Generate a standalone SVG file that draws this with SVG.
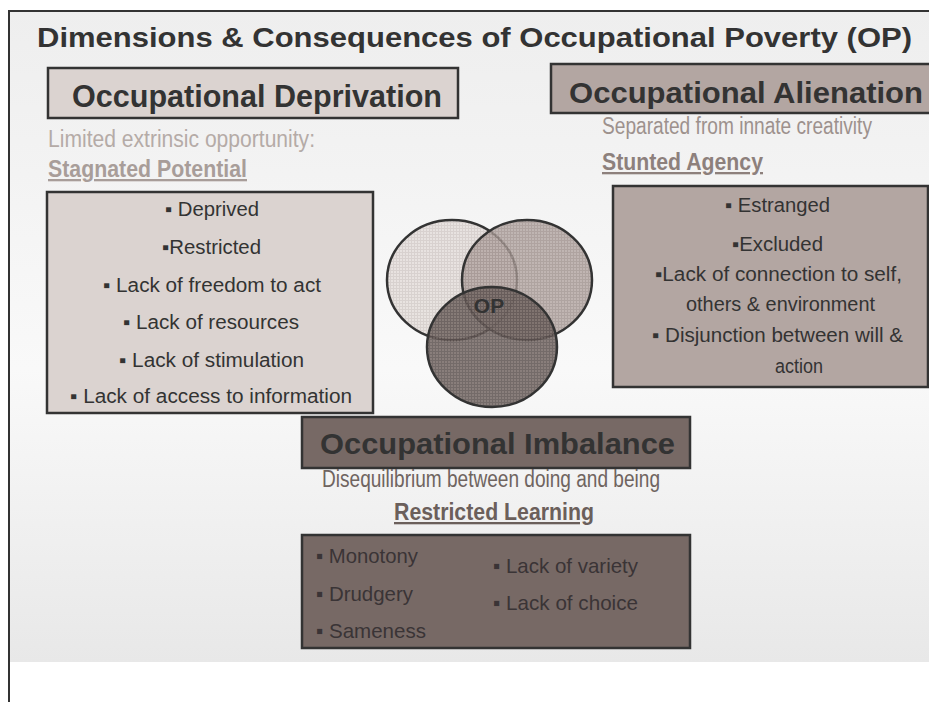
<svg xmlns="http://www.w3.org/2000/svg" width="929" height="702" viewBox="0 0 929 702">
<defs>
<linearGradient id="bg" x1="0" y1="0" x2="0" y2="1">
<stop offset="0" stop-color="#eeeeee"/>
<stop offset="0.55" stop-color="#f9f9f9"/>
<stop offset="1" stop-color="#e8e8e8"/>
</linearGradient>
<pattern id="p1" width="3" height="3" patternUnits="userSpaceOnUse">
<rect width="3" height="3" fill="#e5dfdc"/>
<path d="M0 0.5H3M0.5 0V3" stroke="#d3cbc8" stroke-width="1"/>
</pattern>
<pattern id="p2" width="3" height="3" patternUnits="userSpaceOnUse">
<rect width="3" height="3" fill="#b2a5a1"/>
<path d="M0 0.5H3M0.5 0V3" stroke="#9d8f8b" stroke-width="1"/>
</pattern>
<pattern id="p3" width="3" height="3" patternUnits="userSpaceOnUse">
<rect width="3" height="3" fill="#756965"/>
<path d="M0 0.5H3M0.5 0V3" stroke="#5d5250" stroke-width="1"/>
</pattern>
</defs>
<style>
.box{stroke:#333333;stroke-width:2.5}
.light{fill:#dbd3d0}
.mid{fill:#b3a6a2}
.dark{fill:#776965}
.hdr{font-family:"Liberation Sans",Arial,sans-serif;font-weight:bold;fill:#333333}
.sub{font-family:"Liberation Sans",Arial,sans-serif;font-size:23px}
.subb{font-family:"Liberation Sans",Arial,sans-serif;font-size:23px;font-weight:bold;text-decoration:underline}
.item{font-family:"Liberation Sans",Arial,sans-serif;font-size:19.5px;fill:#333333}
.itemd{font-family:"Liberation Sans",Arial,sans-serif;font-size:21px;fill:#3a3436}
.venn{stroke:#333333;stroke-width:2.5}
</style>

<g id="frame">
<rect x="9" y="11" width="930" height="651" fill="url(#bg)"/>
<path d="M9 702V11H929" fill="none" stroke="#333333" stroke-width="2"/>
</g>

<g id="title">
<text class="hdr" x="37" y="47" font-size="27.5" textLength="875" lengthAdjust="spacingAndGlyphs">Dimensions &amp; Consequences of Occupational Poverty (OP)</text>
</g>

<g id="deprivation">
<rect class="box light" x="48" y="68" width="410" height="50"/>
<text class="hdr" x="72" y="107" font-size="31" textLength="370" lengthAdjust="spacingAndGlyphs">Occupational Deprivation</text>
<text class="sub" x="48" y="147" fill="#b5aba7" textLength="267" lengthAdjust="spacingAndGlyphs">Limited extrinsic opportunity:</text>
<text class="subb" x="48" y="177" fill="#a89d99" textLength="199" lengthAdjust="spacingAndGlyphs">Stagnated Potential</text>
<rect class="box light" x="47" y="192" width="326" height="221"/>
<text class="item" x="165" y="216" textLength="94" lengthAdjust="spacingAndGlyphs">▪ Deprived</text>
<text class="item" x="162" y="254" textLength="99" lengthAdjust="spacingAndGlyphs">▪Restricted</text>
<text class="item" x="103" y="292" textLength="218" lengthAdjust="spacingAndGlyphs">▪ Lack of freedom to act</text>
<text class="item" x="123" y="329" textLength="176" lengthAdjust="spacingAndGlyphs">▪ Lack of resources</text>
<text class="item" x="119" y="367" textLength="185" lengthAdjust="spacingAndGlyphs">▪ Lack of stimulation</text>
<text class="item" x="70" y="403" textLength="282" lengthAdjust="spacingAndGlyphs">▪ Lack of access to information</text>
</g>

<g id="alienation">
<rect class="box mid" x="551" y="64" width="400" height="49"/>
<text class="hdr" x="569" y="103" font-size="30" textLength="354" lengthAdjust="spacingAndGlyphs">Occupational Alienation</text>
<text class="sub" x="602" y="134" fill="#9d918d" textLength="270" lengthAdjust="spacingAndGlyphs">Separated from innate creativity</text>
<text class="subb" x="602" y="170" fill="#8d807c" textLength="161" lengthAdjust="spacingAndGlyphs">Stunted Agency</text>
<rect class="box mid" x="613" y="186" width="315" height="201"/>
<text class="item" x="725" y="212" textLength="105" lengthAdjust="spacingAndGlyphs">▪ Estranged</text>
<text class="item" x="732" y="251" textLength="91" lengthAdjust="spacingAndGlyphs">▪Excluded</text>
<text class="item" x="655" y="281" textLength="247" lengthAdjust="spacingAndGlyphs">▪Lack of connection to self,</text>
<text class="item" x="686" y="311" textLength="189" lengthAdjust="spacingAndGlyphs">others &amp; environment</text>
<text class="item" x="652" y="342" textLength="251" lengthAdjust="spacingAndGlyphs">▪ Disjunction between will &amp;</text>
<text class="item" x="775" y="373" textLength="48" lengthAdjust="spacingAndGlyphs">action</text>
</g>

<g id="venn">
<ellipse class="venn" cx="452" cy="280" rx="65" ry="60" fill="url(#p1)" fill-opacity="0.85"/>
<ellipse class="venn" cx="527" cy="280" rx="65" ry="60" fill="url(#p2)" fill-opacity="0.8"/>
<ellipse class="venn" cx="492" cy="347" rx="65" ry="60" fill="url(#p3)" fill-opacity="0.85"/>
<text class="hdr" x="489" y="313" font-size="21" text-anchor="middle">OP</text>
</g>

<g id="imbalance">
<rect class="box dark" x="302" y="417" width="388" height="51"/>
<text class="hdr" x="320" y="454" font-size="30" textLength="355" lengthAdjust="spacingAndGlyphs">Occupational Imbalance</text>
<text class="sub" x="322" y="487" fill="#6f6460" textLength="338" lengthAdjust="spacingAndGlyphs">Disequilibrium between doing and being</text>
<text class="subb" x="394" y="520" fill="#6b5f5b" textLength="200" lengthAdjust="spacingAndGlyphs">Restricted Learning</text>
<rect class="box dark" x="302" y="535" width="388" height="113"/>
<text class="itemd" x="316" y="563" textLength="102" lengthAdjust="spacingAndGlyphs">▪ Monotony</text>
<text class="itemd" x="316" y="601" textLength="97" lengthAdjust="spacingAndGlyphs">▪ Drudgery</text>
<text class="itemd" x="316" y="638" textLength="110" lengthAdjust="spacingAndGlyphs">▪ Sameness</text>
<text class="itemd" x="493" y="573" textLength="145" lengthAdjust="spacingAndGlyphs">▪ Lack of variety</text>
<text class="itemd" x="493" y="610" textLength="145" lengthAdjust="spacingAndGlyphs">▪ Lack of choice</text>
</g>

<g id="connectors"></g>
</svg>
